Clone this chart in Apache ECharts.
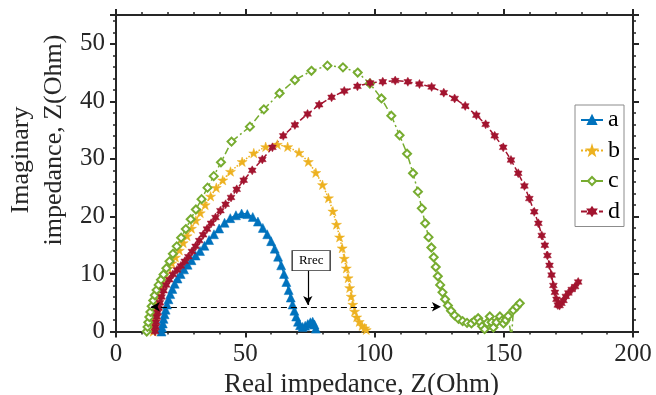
<!DOCTYPE html>
<html>
<head>
<meta charset="utf-8">
<script src="https://cdn.jsdelivr.net/npm/echarts@6/dist/echarts.min.js"></script>
<style>
  html, body { margin: 0; padding: 0; background: #fff; }
  #chart { width: 656px; height: 395px; }
</style>
</head>
<body>
<div id="chart"></div>
<script>
const xTicks = [0, 50, 100, 150, 200];
const yTicks = [0, 10, 20, 30, 40, 50];
const seriesNames = ["a", "b", "c", "d"];

// [real, imaginary] pairs
const seriesA = [
  [17.6,0.0],[17.8,0.7],[18.1,1.4],[18.4,2.2],[18.8,3.0],[19.2,3.8],[19.7,4.7],[20.3,5.6],
  [21.0,6.5],[21.8,7.4],[22.7,8.3],[23.8,9.2],[25.0,10.0],[26.3,10.8],[27.7,11.6],[29.2,12.4],
  [30.8,13.2],[32.5,14.0],[34.2,14.9],[36.0,15.9],[37.9,16.9],[39.9,17.9],[42.0,18.9],[44.2,19.7],
  [46.4,20.2],[48.6,20.5],[50.8,20.4],[52.9,19.9],[54.9,19.1],[56.8,18.0],[58.5,16.9],[60.0,15.7],
  [61.4,14.4],[62.7,13.0],[63.9,11.5],[65.0,10.0],[65.9,8.6],[66.8,7.2],[67.6,5.9],[68.3,4.7],
  [69.0,3.6],[69.7,2.6],[70.4,1.7],[71.2,1.1],[72.2,0.8],[73.2,1.0],[74.2,1.3],[75.2,1.6],
  [76.1,1.7],[76.8,1.2],[77.3,0.5]
];
const seriesB = [
  [14.4,0.0],[14.6,0.9],[14.9,1.8],[15.2,2.8],[15.6,3.8],[16.0,4.9],[16.5,6.2],[17.1,7.6],
  [17.9,8.9],[19.0,10.0],[20.3,11.0],[21.6,11.9],[23.0,12.9],[24.5,14.1],[26.0,15.4],[27.5,16.6],
  [29.2,17.9],[30.9,19.3],[32.6,20.6],[34.5,22.0],[36.6,23.5],[38.8,25.0],[41.3,26.3],[44.3,27.8],
  [48.8,29.5],[53.3,31.0],[57.9,32.1],[62.4,32.5],[66.4,32.1],[70.8,31.1],[74.4,29.5],[77.3,27.6],
  [79.9,25.5],[82.2,23.2],[83.9,20.9],[85.3,18.6],[86.5,16.4],[87.5,14.5],[88.3,12.7],[89.1,11.0],
  [89.8,9.3],[90.4,7.6],[91.0,6.1],[91.6,4.7],[92.3,3.5],[93.1,2.5],[94.1,1.7],[95.2,1.0],
  [96.2,0.6],[96.8,0.3]
];
const seriesC = [
  [11.9,0.0],[12.2,0.8],[12.5,1.6],[12.9,2.5],[13.3,3.4],[13.8,4.4],[14.4,5.4],[15.0,6.3],
  [15.7,7.2],[16.5,8.1],[17.4,9.0],[18.4,9.9],[19.5,11.0],[20.7,12.2],[22.0,13.5],[23.5,14.8],
  [25.2,16.3],[27.0,17.8],[28.9,19.5],[30.9,21.2],[33.1,23.0],[35.4,25.0],[37.8,27.0],[40.6,29.4],
  [44.7,33.0],[51.8,35.6],[57.2,38.6],[63.3,41.4],[69.2,43.7],[75.6,45.3],[81.8,46.2],[87.8,45.9],
  [93.5,45.0],[98.2,43.1],[102.7,40.5],[106.5,37.5],[109.7,34.1],[112.6,30.9],[114.9,27.5],[116.8,24.3],
  [118.3,21.4],[119.6,18.8],[120.9,16.4],[122.0,14.6],[122.9,12.9],[123.7,11.2],[124.5,9.6],[125.4,8.1],
  [126.3,6.8],[127.3,5.6],[128.4,4.5],[129.6,3.6],[131.0,2.8],[132.5,2.2],[134.1,1.8],[135.8,1.5],
  [137.5,1.4],[138.8,1.9],[140.1,2.3],[140.9,1.6],[141.6,0.9],[142.6,0.4],[143.6,1.5],[144.6,2.6],
  [145.3,1.6],[146.0,0.7],[147.2,1.6],[148.5,2.6],[149.3,1.9],[149.9,1.4],[150.8,2.0],[151.7,2.7],
  [153.0,-1.2],[153.7,3.7],[155.0,4.3],[156.2,4.9]
];
const seriesD = [
  [15.1,0.0],[15.3,0.8],[15.5,1.6],[15.8,2.5],[16.1,3.3],[16.5,4.1],[17.0,5.0],[17.6,6.0],
  [18.4,7.1],[19.4,8.1],[20.6,9.0],[22.0,9.9],[23.6,10.7],[25.1,11.4],[26.6,12.2],[28.0,13.0],
  [29.4,13.9],[30.8,14.8],[32.2,15.8],[33.7,16.8],[35.2,17.8],[36.8,18.8],[38.5,19.8],[40.4,21.0],
  [42.4,22.1],[44.5,23.3],[46.7,24.7],[49.4,26.3],[52.7,28.0],[56.6,29.9],[60.5,32.0],[64.7,34.0],
  [69.2,35.9],[74.1,37.8],[78.6,39.4],[83.4,40.7],[88.3,41.8],[93.4,42.6],[98.3,43.2],[103.2,43.4],
  [108.0,43.6],[112.9,43.4],[117.4,43.0],[122.1,42.5],[126.8,41.5],[131.0,40.5],[135.1,39.2],[139.4,37.6],
  [143.0,36.0],[146.5,34.0],[149.8,32.0],[152.8,29.8],[155.6,27.5],[158.0,25.3],[159.9,23.1],[161.8,20.8],
  [163.4,18.8],[164.7,16.7],[165.9,15.0],[166.9,13.2],[167.7,11.5],[168.5,9.8],[169.2,8.0],[169.8,6.8],
  [170.4,5.6],[170.9,4.6],[171.6,4.5],[172.3,4.9],[173.1,5.4],[174.0,6.1],[175.0,6.7],[176.3,7.3],
  [177.6,7.8],[178.8,8.6]
];

// annotation positions (data units)
const rrecArrowY = 4.3;
const rrecArrowFrom = 13.5;
const rrecArrowTo = 125.7;
const rrecPointerX = 74.2;
const rrecPointerTop = 10.7;
const rrecPointerTip = 4.6;
const rrecBox = [75.5, 12.3];

const INK = "#262626";
const FONT = '"Liberation Serif", "DejaVu Serif", serif';
const BLUE = "#0072BD", ORANGE = "#EDB120", GREEN = "#77AC30", RED = "#A2142F";

const STAR5 = "path://M0,-10L2.245,-3.09L9.511,-3.09L3.633,1.18L5.878,8.09L0,3.82L-5.878,8.09L-3.633,1.18L-9.511,-3.09L-2.245,-3.09Z";
const STAR6 = "path://M0,-10L2.885,-5L8.66,-5L5.77,0L8.66,5L2.885,5L0,10L-2.885,5L-8.66,5L-5.77,0L-8.66,-5L-2.885,-5Z";

const chart = echarts.init(document.getElementById("chart"));

const frameLine = { show: true, onZero: false, lineStyle: { color: INK, width: 2 } };
const majorTick = { show: true, inside: false, length: 6, lineStyle: { color: INK, width: 2 } };

function xAxisOf(position, withLabels) {
  return {
    type: "value", position, min: xTicks[0], max: xTicks[xTicks.length - 1], interval: 50,
    axisLine: frameLine, axisTick: majorTick,
    minorTick: { show: true, splitNumber: 5, length: 3, lineStyle: { color: INK, width: 1.5 } },
    splitLine: { show: false }, minorSplitLine: { show: false },
    axisLabel: withLabels
      ? { show: true, margin: 10, fontSize: 25, fontFamily: FONT, color: INK }
      : { show: false },
    name: withLabels ? "Real impedance, Z(Ohm)" : "",
    nameLocation: "middle", nameGap: 30,
    nameTextStyle: { fontSize: 27, fontFamily: FONT, color: INK, padding: [0, 26, 0, 0] }
  };
}

function yAxisOf(position, withLabels) {
  return {
    type: "value", position, min: 0, max: 55, interval: 10,
    axisLine: frameLine, axisTick: majorTick, splitLine: { show: false },
    axisLabel: withLabels
      ? { show: true, margin: 11, fontSize: 25, fontFamily: FONT, color: INK,
          formatter: (v) => (yTicks.includes(v) ? String(v) : "") }
      : { show: false }
  };
}

function yMinorOf(position) {
  return {
    type: "value", position, min: 0, max: 55, interval: 2,
    axisLine: { show: false, onZero: false },
    axisTick: { show: true, inside: false, length: 3, lineStyle: { color: INK, width: 1.5 } },
    splitLine: { show: false }, axisLabel: { show: false }
  };
}

function curve(name, data, color, symbol, size, dash, hollow) {
  return {
    name, type: "line", data, xAxisIndex: 0, yAxisIndex: 0,
    symbol, symbolSize: size, symbolKeepAspect: true,
    lineStyle: { color, width: 1.5, type: dash },
    itemStyle: hollow
      ? { color: "#fff", borderColor: color, borderWidth: 2 }
      : { color, borderColor: color, borderWidth: 0.5 },
    emphasis: { disabled: true }
  };
}

chart.setOption({
  animation: false,
  grid: { left: 116, right: 23, top: 15, bottom: 63.5, containLabel: false, outerBoundsMode: "none" },
  xAxis: [xAxisOf("bottom", true), xAxisOf("top", false)],
  yAxis: [yAxisOf("left", true), yMinorOf("left"), yAxisOf("right", false), yMinorOf("right")],
  legend: {
    orient: "vertical", left: 575, top: 105, data: seriesNames,
    itemWidth: 22, itemHeight: 10, itemGap: 6.5,
    padding: [3, 4, 3, 5],
    borderColor: "#8c8c8c", borderWidth: 1, backgroundColor: "#fff",
    textStyle: { fontFamily: FONT, fontSize: 24, color: "#000" }
  },
  graphic: [
    { type: "text", x: 21, y: 160, rotation: Math.PI / 2,
      style: { text: "Imaginary", font: "26px " + FONT, fill: INK, align: "center", verticalAlign: "middle" } },
    { type: "text", x: 54, y: 140, rotation: Math.PI / 2,
      style: { text: "impedance, Z(Ohm)", font: "26px " + FONT, fill: INK, align: "center", verticalAlign: "middle" } }
  ],
  series: [
    curve("a", seriesA, BLUE, "triangle", 9, "solid", false),
    curve("b", seriesB, ORANGE, STAR5, 10, "dotted", false),
    curve("c", seriesC, GREEN, "diamond", 8, [7, 3, 2, 3], true),
    curve("d", seriesD, RED, STAR6, 9, [6, 3], false),
    {
      name: "rrec-span", type: "line", data: [], xAxisIndex: 0, yAxisIndex: 0,
      markLine: {
        silent: true, animation: false, symbol: ["arrow", "arrow"], symbolSize: [7, 9],
        label: { show: false },
        lineStyle: { color: "#000", width: 1.2, type: [6, 4] },
        data: [[{ coord: [rrecArrowFrom, rrecArrowY] }, { coord: [rrecArrowTo, rrecArrowY] }]]
      }
    },
    {
      name: "rrec-pointer", type: "line", data: [], xAxisIndex: 0, yAxisIndex: 0,
      markLine: {
        silent: true, animation: false, symbol: ["none", "arrow"], symbolSize: [7, 9],
        label: { show: false },
        lineStyle: { color: "#000", width: 1.2, type: "solid" },
        data: [[{ coord: [rrecPointerX, rrecPointerTop] }, { coord: [rrecPointerX, rrecPointerTip] }]]
      },
      markPoint: {
        silent: true, animation: false, symbol: "rect", symbolSize: [38, 20],
        itemStyle: { color: "#fff", borderColor: "#333", borderWidth: 1 },
        label: { show: true, position: "inside", formatter: "Rrec", fontFamily: FONT, fontSize: 13, color: "#000" },
        data: [{ coord: rrecBox }]
      }
    }
  ]
});
</script>
</body>
</html>
